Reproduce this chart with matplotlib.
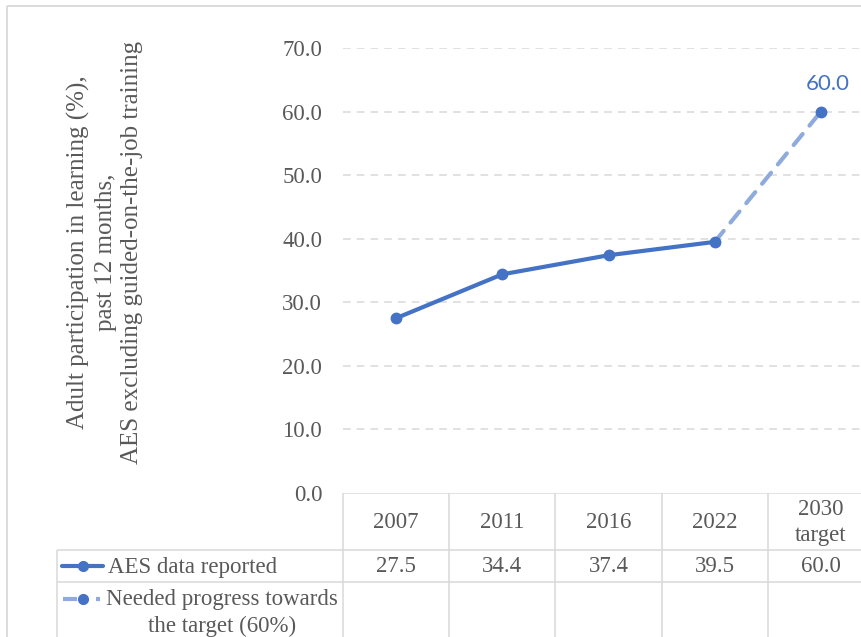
import matplotlib
matplotlib.use("Agg")
import matplotlib.pyplot as plt
from matplotlib.lines import Line2D

# Data
years = ["2007", "2011", "2016", "2022", "2030\ntarget"]
aes_reported = [27.5, 34.4, 37.4, 39.5, 60.0]
needed_years_idx = [3, 4]
needed_progress = [39.5, 60.0]
y_ticks = [0, 10, 20, 30, 40, 50, 60, 70]
row_labels = ["AES data reported", "Needed progress towards\nthe target (60%)"]
y_label = ("Adult participation in learning (%),\npast 12 months,\n"
           "AES excluding guided-on-the-job training")

DARK = "#4472C4"
LIGHT = "#8FAADC"
GRID = "#D9D9D9"
TXT = "#595959"
SERIF = "Liberation Serif"
FS = 16.5

W, H = 862, 637
fig = plt.figure(figsize=(W / 100, H / 100), dpi=100)

# Geometry of the plot area, in pixels
x0, x_right, y_top, y_bot = 343, 874, 48, 493
ncol = len(years)
colw = (x_right - x0) / ncol

ax = fig.add_axes([x0 / W, (H - y_bot) / H, (x_right - x0) / W, (y_bot - y_top) / H])
ax.set_xlim(-0.5, ncol - 0.5)
ax.set_ylim(0, 70)
for s in ax.spines.values():
    s.set_visible(False)
ax.set_xticks([])
ax.set_yticks(y_ticks)
ax.set_yticklabels([f"{v:.1f}" for v in y_ticks], fontfamily=SERIF, fontsize=FS, color=TXT)
ax.tick_params(axis="y", length=0, pad=15)
for v in y_ticks[1:]:
    ax.axhline(v, color=GRID, lw=1.1, linestyle=(0, (5, 4)), zorder=1)

xs = list(range(ncol))
# Needed progress (dashed, lighter)
ax.plot(needed_years_idx, needed_progress, color=LIGHT, lw=3.0,
        linestyle=(0, (3.4, 2.6)), dash_capstyle="round", zorder=2)
ax.plot([needed_years_idx[-1]], [needed_progress[-1]], "o", color=DARK, ms=7.5, zorder=4)
# Reported series
ax.plot(xs[:4], aes_reported[:4], color=DARK, lw=3.0, marker="o", ms=7.5,
        solid_capstyle="round", zorder=3)
ax.annotate(f"{needed_progress[-1]:.1f}", (needed_years_idx[-1], needed_progress[-1]),
            xytext=(5, 20), textcoords="offset points", ha="center", va="center",
            fontfamily="Lato", fontsize=16, color=DARK)

# Overlay in pixel coordinates for the frame and data table
ov = fig.add_axes([0, 0, 1, 1], zorder=-1)
ov.set_xlim(0, W)
ov.set_ylim(H, 0)
ov.axis("off")

def seg(xa, ya, xb, yb, color=GRID, lw=1.1):
    ov.add_line(Line2D([xa, xb], [ya, yb], color=color, lw=lw, solid_capstyle="butt"))

# chart frame
seg(7, 6, W + 5, 6, lw=1.3)
seg(7, 6, 7, H + 5, lw=1.3)

# table grid
row1_top, row2_top = 550, 582
lab_left = 57
seg(x0, y_bot, W + 5, y_bot)
seg(lab_left, row1_top, W + 5, row1_top)
seg(lab_left, row2_top, W + 5, row2_top)
seg(lab_left, row1_top, lab_left, H + 5)
for i in range(ncol + 1):
    xc = x0 + i * colw
    seg(xc, y_bot, xc, H + 5)

# header and values
for i, (yr, v) in enumerate(zip(years, aes_reported)):
    xc = x0 + (i + 0.5) * colw
    ov.text(xc, (y_bot + row1_top) / 2 + 1, yr, ha="center", va="center",
            fontfamily=SERIF, fontsize=FS, color=TXT, linespacing=1.3)
    ov.text(xc, (row1_top + row2_top) / 2 + 1, f"{v:.1f}", ha="center", va="center",
            fontfamily=SERIF, fontsize=FS, color=TXT)

# row labels with legend keys
ry1 = (row1_top + row2_top) / 2
ov.add_line(Line2D([62, 103], [ry1, ry1], color=DARK, lw=3.0, solid_capstyle="round"))
ov.plot([83], [ry1], "o", color=DARK, ms=7)
ov.text(108, ry1 + 1, row_labels[0], ha="left", va="center",
        fontfamily=SERIF, fontsize=FS, color=TXT)

ry2 = 599
ov.add_line(Line2D([63, 77], [ry2, ry2], color=LIGHT, lw=3.0, solid_capstyle="butt"))
ov.add_line(Line2D([96, 100], [ry2, ry2], color=LIGHT, lw=3.0, solid_capstyle="butt"))
ov.plot([83], [ry2], "o", color=DARK, ms=7)
ov.text(222, 613, row_labels[1], ha="center", va="center", multialignment="center",
        fontfamily=SERIF, fontsize=FS, color=TXT, linespacing=1.3)

# axis title
ov.text(105, 252, y_label, rotation=90, ha="center", va="center", multialignment="center",
        fontfamily=SERIF, fontsize=18, color=TXT, linespacing=1.25)

fig.savefig("out.png", dpi=100)
